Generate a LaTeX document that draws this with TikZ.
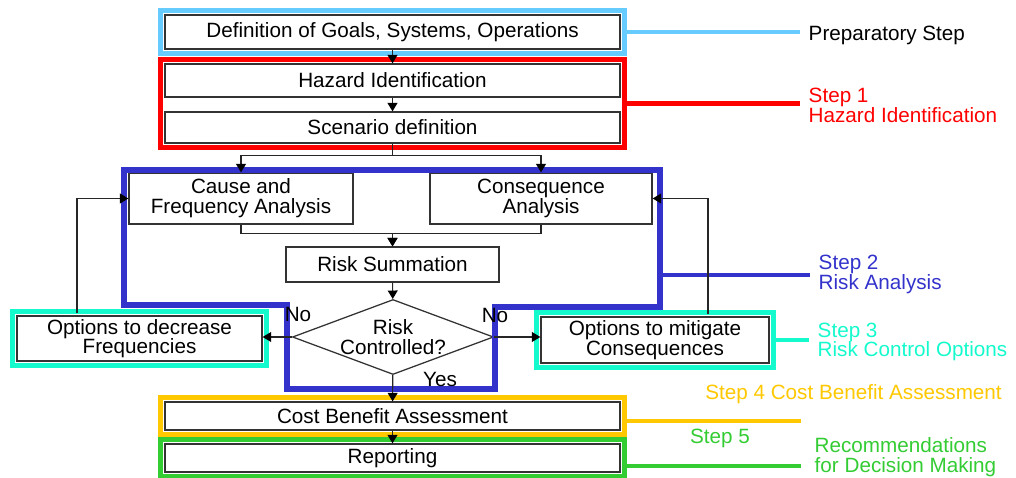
\documentclass[tikz,border=0pt]{standalone}
\usepackage{fontspec}
\setmainfont{Liberation Sans}
\usetikzlibrary{arrows.meta,calc,fit,shapes.geometric}
\definecolor{PrepClr}{RGB}{102,204,255}
\definecolor{HazClr}{RGB}{255,0,0}
\definecolor{AnaClr}{RGB}{51,51,204}
\definecolor{CtrlClr}{RGB}{20,250,205}
\definecolor{CostClr}{RGB}{255,200,0}
\definecolor{RepClr}{RGB}{51,204,51}

\begin{document}
\begin{tikzpicture}[x=0.025cm,y=-0.025cm,
  font=\fontsize{14.7}{14}\selectfont,
  box/.style={draw=black!80,line width=0.9pt,fill=white,align=center,inner sep=0pt,minimum width=11.375cm},
  decision/.style={diamond,draw=black!80,line width=0.9pt,fill=white,align=center,aspect=2.68,inner sep=-1.5pt,minimum width=5.025cm,minimum height=1.875cm},
  frame/.style={draw=#1,line width=3.8pt,inner sep=2.6pt},
  leader/.style={line width=3pt},
  flow/.style={draw=black!85,line width=0.8pt,-{Triangle[length=6pt,width=7pt,color=black]}},
  tag/.style={anchor=west,align=left,inner xsep=6pt,inner ysep=0pt},
  answer/.style={inner sep=0pt}]
\useasboundingbox (0,0) rectangle (1016,478);

% Boxes of the procedure.
\node[box,minimum height=0.85cm] (def) at (392.5,32) {Definition of Goals, Systems, Operations};
\node[box,minimum height=0.825cm] (haz) at (392.5,80.5) {Hazard Identification};
\node[box,minimum height=0.775cm] (scen) at (392.5,127.5) {Scenario definition};
\node[box,minimum width=5.6cm,minimum height=1.275cm] (cause) at (241,198.5) {Cause and\\Frequency Analysis};
\node[box,minimum width=5.55cm,minimum height=1.275cm] (cons) at (541,198.5) {Consequence\\Analysis};
\node[box,minimum width=5.325cm,minimum height=0.875cm] (sum) at (392.5,264.5) {Risk Summation};
\node[decision] (risk) at (393,337) {Risk\\Controlled?};
\node[box,minimum width=6.125cm,minimum height=1.125cm] (optdec) at (139.5,338.5) {Options to decrease\\Frequencies};
\node[box,minimum width=5.7cm,minimum height=1.15cm] (optmit) at (655,340) {Options to mitigate\\Consequences};
\node[box,minimum height=0.7cm] (cost) at (392.5,416) {Cost Benefit Assessment};
\node[box,minimum height=0.7cm] (rep) at (392.5,458) {Reporting};

% Frames round the steps.
\node[frame=PrepClr,fit=(def)] (fPrep) {};
\node[frame=HazClr,fit=(haz)(scen)] (fHaz) {};
\draw[AnaClr,line width=3.8pt] (124,170) -- (660,170) -- (660,307) -- (495,307) -- (495,389)
  -- (287,389) -- (287,305) -- (124,305) -- cycle;
\node[frame=CtrlClr,fit=(optdec)] (fDec) {};
\node[frame=CtrlClr,fit=(optmit)] (fMit) {};
\node[frame=CostClr,fit=(cost)] (fCost) {};
\node[frame=RepClr,fit=(rep)] (fRep) {};

% Captions of the steps.
\node[tag] (tPrep) at (800,35) {Preparatory Step};
\node[tag,text=HazClr] (tHaz) at (800,105.5) {Step 1\\Hazard Identification};
\node[tag,text=AnaClr] (tAna) at (810,274.5) {Step 2\\Risk Analysis};
\node[tag,text=CtrlClr] (tCtrl) at (809,342) {Step 3\\Risk Control Options};
\node[text=CostClr] (tCost) at (853.5,394) {Step 4 Cost Benefit Assessment};
\node[text=RepClr] (tStep) at (720,438) {Step 5};
\node[tag,text=RepClr] (tRep) at (806,457) {Recommendations\\for Decision Making};

% Tie each frame to its caption.
\coordinate (cAna) at (660,275);
\coordinate (eCost) at (801,421);
\coordinate (eRep) at (801,466);
\draw[leader,PrepClr] (fPrep.east) -- (fPrep.east -| tPrep.west);
\draw[leader,HazClr] (fHaz.east) -- (fHaz.east -| tHaz.west);
\draw[leader,AnaClr] (cAna) -- (cAna -| tAna.west);
\draw[leader,CtrlClr] (fMit.east) -- (fMit.east -| tCtrl.west);
\draw[leader,CostClr] (fCost.east |- eCost) -- (eCost);
\draw[leader,RepClr] (fRep.east |- eRep) -- (eRep);

% Main flow.
\draw[flow] (def) -- (haz);
\draw[flow] (haz) -- (scen);
\draw[flow] (scen.south) -- ++(0,12) -| (cause.north);
\draw[flow] (scen.south) -- ++(0,12) -| (cons.north);
\draw[flow] (cause.south) -- ++(0,9) -| (sum.north);
\draw[flow] (cons.south) -- ++(0,9) -| (sum.north);
\draw[flow] (sum) -- (risk);
\draw[flow] (risk) -- (cost);
\draw[flow] (cost) -- (rep);
\draw[flow] (risk.west) -- (risk.west -| optdec.east);
\draw[flow] (risk.east) -- (risk.east -| optmit.west);

% Feedback loops.
\coordinate (fbL) at (77,313);
\coordinate (fbR) at (708,314);
\draw[flow] (fbL) |- (cause.west);
\draw[flow] (fbR) |- (cons.east);

% Answers at the decision.
\node[answer] (noL) at (298,314) {No};
\node[answer] (noR) at (495,315) {No};
\node[answer] (yes) at (440,379) {Yes};

\end{tikzpicture}
\end{document}
